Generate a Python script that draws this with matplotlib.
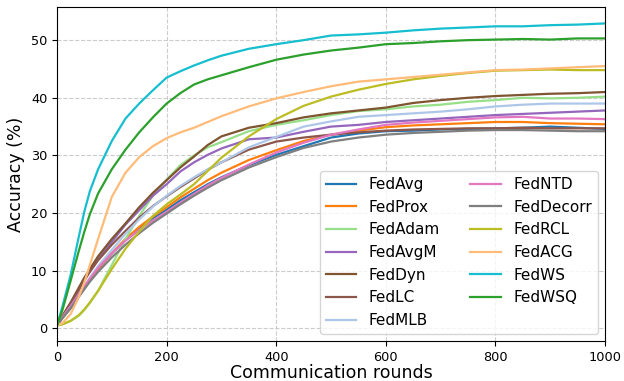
import matplotlib
matplotlib.use("Agg")
import matplotlib.pyplot as plt

rounds = [0, 10, 25, 40, 50, 60, 75, 100, 125, 150, 175, 200, 225, 250, 275, 300, 350, 400,
          450, 500, 550, 600, 650, 700, 750, 800, 850, 900, 950, 1000]

fedavg = [0.5, 1.8, 3.5, 5.6, 7.0, 8.4, 10.3, 13.0, 15.4, 17.4, 19.1, 20.6, 22.2, 23.6, 25.0, 26.2, 28.3, 30.1,
          31.6, 33.1, 33.8, 34.2, 34.3, 34.5, 34.6, 34.7, 34.8, 35.0, 34.8, 34.6]
fedprox = [0.5, 1.8, 3.6, 5.6, 7.0, 8.4, 10.3, 13.0, 15.5, 17.6, 19.4, 21.0, 22.7, 24.2, 25.7, 27.0, 29.2, 30.9,
           32.5, 33.6, 34.3, 34.9, 35.2, 35.4, 35.6, 35.8, 35.8, 35.6, 35.5, 35.4]
fedadam = [0.5, 0.7, 1.3, 2.2, 3.2, 4.4, 6.5, 11.0, 15.5, 19.5, 23.0, 25.8, 28.3, 30.0, 31.4, 32.3, 34.2, 35.3,
           36.1, 37.0, 37.7, 38.0, 38.5, 38.8, 39.3, 39.6, 40.0, 39.9, 40.0, 40.2]
fedavgm = [0.5, 2.0, 4.0, 6.7, 8.5, 9.9, 12.0, 15.0, 18.0, 20.5, 23.0, 25.0, 27.2, 28.8, 30.1, 31.2, 32.8, 33.1,
           34.1, 35.0, 35.3, 35.8, 36.1, 36.4, 36.7, 37.0, 37.2, 37.4, 37.6, 37.8]
feddyn = [0.5, 2.2, 4.5, 7.1, 8.8, 10.3, 12.5, 15.5, 18.2, 21.0, 23.5, 25.7, 27.9, 29.8, 31.8, 33.3, 34.8, 35.6,
          36.6, 37.3, 37.8, 38.3, 39.1, 39.6, 40.0, 40.3, 40.5, 40.7, 40.8, 41.0]
fedlc = [0.5, 2.0, 4.3, 6.7, 8.3, 9.8, 11.8, 14.5, 16.9, 19.2, 21.2, 22.9, 24.5, 26.0, 27.5, 28.8, 31.0, 32.4,
         33.1, 33.6, 34.0, 34.3, 34.5, 34.6, 34.7, 34.7, 34.8, 34.7, 34.7, 34.7]
fedmlb = [0.5, 1.9, 3.8, 5.9, 7.3, 8.8, 10.8, 13.6, 16.4, 18.9, 21.1, 23.0, 24.7, 26.2, 27.6, 28.8, 31.4, 33.2,
          35.0, 35.9, 36.7, 37.0, 37.3, 37.6, 38.0, 38.5, 38.8, 39.0, 39.0, 39.0]
fedntd = [0.5, 2.0, 3.8, 5.9, 7.3, 8.6, 10.5, 13.0, 15.2, 17.1, 18.7, 20.2, 21.8, 23.3, 24.8, 26.1, 28.4, 30.5,
          32.2, 33.6, 34.5, 35.3, 35.7, 36.0, 36.3, 36.6, 36.7, 36.4, 36.4, 36.3]
feddecorr = [0.5, 1.8, 3.5, 5.5, 6.8, 8.1, 9.8, 12.3, 14.5, 16.5, 18.3, 19.9, 21.5, 23.0, 24.4, 25.7, 27.9, 29.7,
             31.3, 32.4, 33.1, 33.6, 33.9, 34.1, 34.3, 34.4, 34.4, 34.3, 34.2, 34.2]
fedrcl = [0.5, 0.7, 1.3, 2.3, 3.3, 4.5, 6.5, 10.3, 13.8, 16.8, 19.5, 21.5, 23.2, 25.0, 27.3, 29.6, 33.3, 36.3,
          38.6, 40.2, 41.4, 42.4, 43.2, 43.8, 44.3, 44.7, 44.8, 44.9, 44.8, 44.8]
fedacg = [0.5, 0.9, 2.5, 5.5, 8.0, 11.0, 15.5, 22.8, 27.0, 29.7, 31.6, 33.0, 34.0, 34.8, 35.8, 36.8, 38.5, 39.9,
          41.0, 42.0, 42.8, 43.2, 43.6, 44.0, 44.4, 44.8, 44.9, 45.1, 45.3, 45.5]
fedws = [0.5, 3.8, 9.3, 16.0, 20.3, 23.8, 27.6, 32.5, 36.4, 39.0, 41.3, 43.5, 44.6, 45.6, 46.5, 47.3, 48.5, 49.3,
         50.0, 50.8, 51.0, 51.3, 51.7, 52.0, 52.2, 52.4, 52.4, 52.6, 52.7, 52.9]
fedwsq = [0.5, 3.2, 8.3, 13.5, 16.8, 19.8, 23.4, 27.6, 31.0, 34.0, 36.6, 39.0, 40.8, 42.3, 43.2, 43.9, 45.3, 46.6,
          47.5, 48.2, 48.7, 49.3, 49.5, 49.8, 50.0, 50.1, 50.2, 50.1, 50.3, 50.3]

labels = ["FedAvg", "FedProx", "FedAdam", "FedAvgM", "FedDyn", "FedLC", "FedMLB",
          "FedNTD", "FedDecorr", "FedRCL", "FedACG", "FedWS", "FedWSQ"]
series = [fedavg, fedprox, fedadam, fedavgm, feddyn, fedlc, fedmlb,
          fedntd, feddecorr, fedrcl, fedacg, fedws, fedwsq]
colors = ["#1f77b4", "#ff7f0e", "#98df8a", "#9467bd", "#7f5430", "#8c564b", "#aec7e8",
          "#e377c2", "#7f7f7f", "#bcbd22", "#ffbb78", "#17becf", "#2ca02c"]

fig = plt.figure(figsize=(6.24, 3.81), dpi=100)
ax = fig.add_axes([57/624, 1-341/381, (605-57)/624, (341-7.3)/381])

for lab, ys, c in zip(labels, series, colors):
    ax.plot(rounds, ys, color=c, lw=1.6, label=lab)

ax.set_xlim(0, 1000)
ax.set_ylim(-2.2, 55.7)
ax.set_xticks([0, 200, 400, 600, 800, 1000])
ax.set_yticks([0, 10, 20, 30, 40, 50])
ax.tick_params(labelsize=9.3)
ax.grid(True, ls="--", color="#cccccc", lw=0.8)
ax.set_axisbelow(True)
ax.set_xlabel("Communication rounds", fontsize=12.5, labelpad=0.5)
ax.set_ylabel("Accuracy (%)", fontsize=12.5, labelpad=4)
ax.legend(ncol=2, loc="lower right", fontsize=11, handlelength=2.0,
          borderaxespad=0.45, labelspacing=0.5, columnspacing=2.0)

fig.savefig("out.png", dpi=100)
